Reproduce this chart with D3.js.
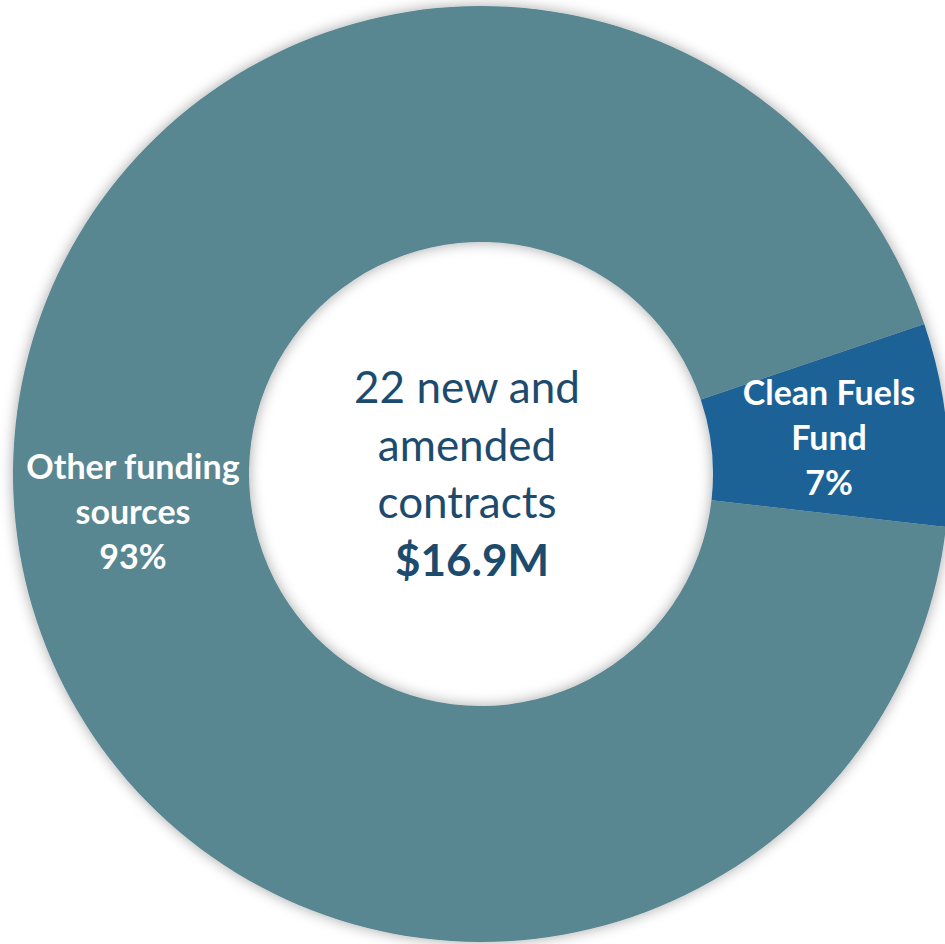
<!DOCTYPE html>
<html>
<head>
<meta charset="utf-8">
<script src="https://cdn.jsdelivr.net/npm/d3@7"></script>
<style>
  html, body { margin: 0; padding: 0; background: #ffffff; overflow: hidden; }
  svg { display: block; }
</style>
</head>
<body>
<svg id="chart" width="945" height="944"></svg>
<script>
// Funding split of new and amended contracts
const categories = ["Clean Fuels Fund", "Other funding sources"];
const labelLines = [["Clean Fuels", "Fund"], ["Other funding", "sources"]];
const shares = [7, 93];
const colors = ["#1f6296", "#588691"];
const centerLines = ["22 new and", "amended", "contracts"];
const centerTotal = "$16.9M";

const width = 945, height = 944;
const cx = 481, cy = 474;
const outerR = 468, innerR = 232;

const svg = d3.select("#chart");

const defs = svg.append("defs");
const shadow = defs.append("filter")
  .attr("id", "ringShadow")
  .attr("x", "-20%").attr("y", "-20%")
  .attr("width", "140%").attr("height", "140%");
shadow.append("feDropShadow")
  .attr("dx", 0).attr("dy", 0)
  .attr("stdDeviation", 7)
  .attr("flood-color", "#000")
  .attr("flood-opacity", 0.35);

const data = categories.map((c, i) => ({ name: c, value: shares[i], lines: labelLines[i], color: colors[i] }));

const pie = d3.pie()
  .sort(null)
  .value(d => d.value)
  .startAngle(71.3 * Math.PI / 180)
  .endAngle(71.3 * Math.PI / 180 + 2 * Math.PI);

const arc = d3.arc().innerRadius(innerR).outerRadius(outerR);

const g = svg.append("g").attr("transform", `translate(${cx},${cy})`);

const ring = g.append("g").attr("filter", "url(#ringShadow)");
ring.selectAll("path")
  .data(pie(data))
  .join("path")
  .attr("d", arc)
  .attr("fill", d => d.data.color);

// Slice labels: name lines plus percentage, centred on each slice centroid
const lineH = 45;
const labels = g.selectAll("g.slice-label")
  .data(pie(data))
  .join("g")
  .attr("class", "slice-label")
  .attr("transform", d => {
    const [x, y] = arc.centroid(d);
    return `translate(${x},${y})`;
  });

labels.each(function (d) {
  const lines = d.data.lines.concat([d.data.value + "%"]);
  const t = d3.select(this).append("text")
    .attr("text-anchor", "middle")
    .attr("fill", "#ffffff")
    .attr("font-family", "Lato, 'Open Sans', sans-serif")
    .attr("font-weight", 700)
    .attr("font-size", 34);
  lines.forEach((ln, i) => {
    t.append("tspan")
      .attr("x", 0)
      .attr("y", (i - 1) * lineH + 13)
      .text(ln);
  });
});

// Centre summary text
const ct = g.append("text")
  .attr("text-anchor", "middle")
  .attr("fill", "#1d4b6d")
  .attr("font-family", "Lato, 'Open Sans', sans-serif")
  .attr("font-size", 44);
centerLines.forEach((ln, i) => {
  ct.append("tspan")
    .attr("x", -14)
    .attr("y", -71 + i * 57.5)
    .text(ln);
});
ct.append("tspan")
  .attr("x", -9)
  .attr("y", -71 + 3 * 57.5)
  .attr("font-weight", 700)
  .text(centerTotal);
</script>
</body>
</html>
